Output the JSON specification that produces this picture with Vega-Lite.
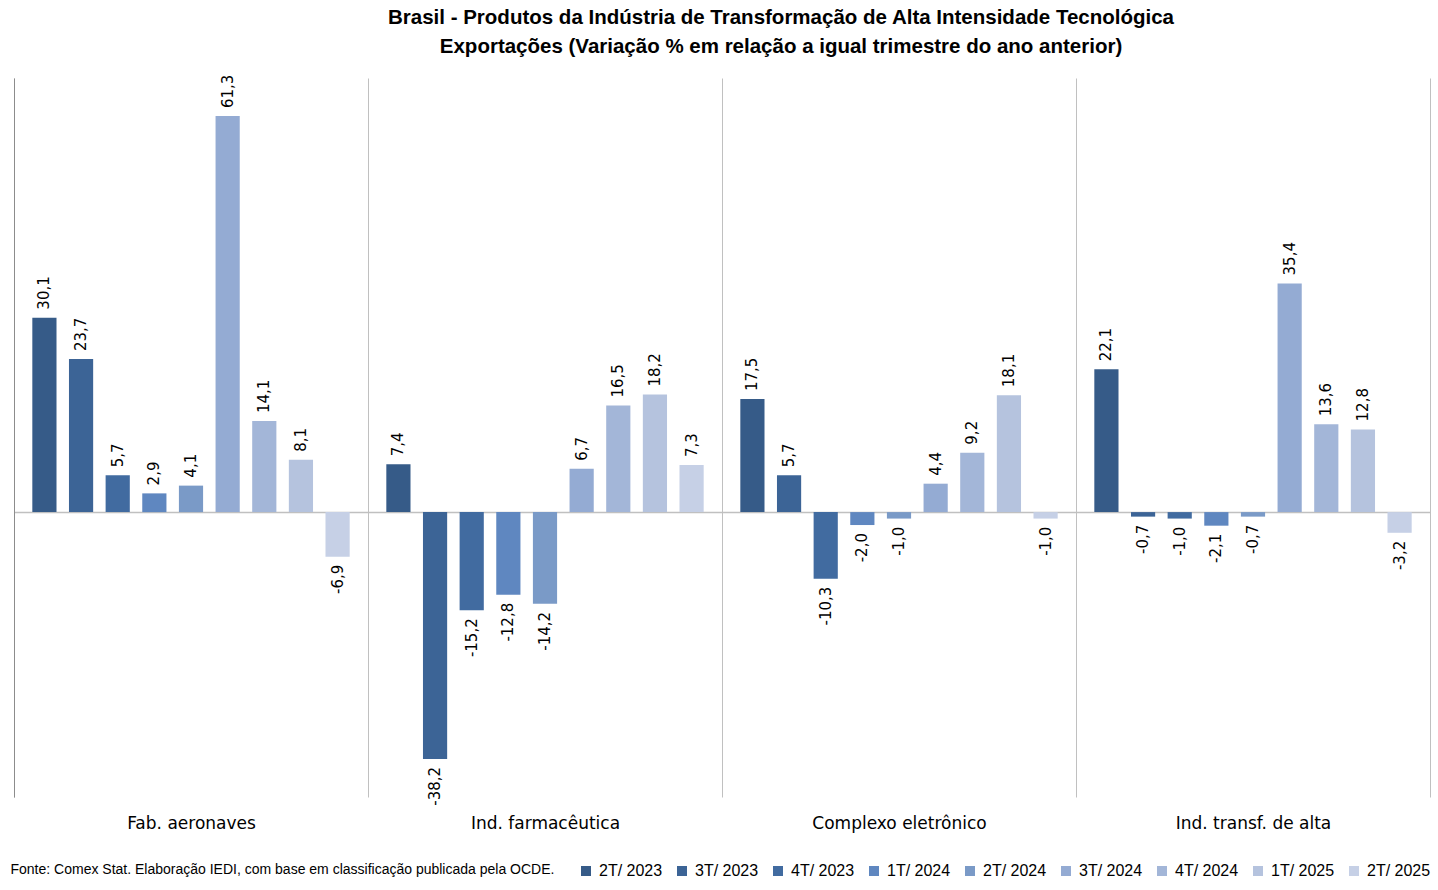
{
  "$schema": "https://vega.github.io/schema/vega-lite/v6.json",
  "width": 1416,
  "height": 719,
  "autosize": {"type": "none"},
  "padding": {"left": 14, "top": 78, "right": 8, "bottom": 93},
  "background": "white",
  "title": {
    "text": ["Brasil - Produtos da Indústria de Transformação de Alta Intensidade Tecnológica", "Exportações (Variação % em relação a igual trimestre do ano anterior)"],
    "font": "Liberation Sans",
    "fontSize": 20.5,
    "fontWeight": "bold",
    "lineHeight": 29,
    "color": "#000000",
    "anchor": "middle",
    "dx": 59,
    "offset": 17
  },
  "data": {
    "values": [
      {"setor": "Fab. aeronaves", "trimestre": "2T/ 2023", "valor": 30.1},
      {"setor": "Fab. aeronaves", "trimestre": "3T/ 2023", "valor": 23.7},
      {"setor": "Fab. aeronaves", "trimestre": "4T/ 2023", "valor": 5.7},
      {"setor": "Fab. aeronaves", "trimestre": "1T/ 2024", "valor": 2.9},
      {"setor": "Fab. aeronaves", "trimestre": "2T/ 2024", "valor": 4.1},
      {"setor": "Fab. aeronaves", "trimestre": "3T/ 2024", "valor": 61.3},
      {"setor": "Fab. aeronaves", "trimestre": "4T/ 2024", "valor": 14.1},
      {"setor": "Fab. aeronaves", "trimestre": "1T/ 2025", "valor": 8.1},
      {"setor": "Fab. aeronaves", "trimestre": "2T/ 2025", "valor": -6.9},
      {"setor": "Ind. farmacêutica", "trimestre": "2T/ 2023", "valor": 7.4},
      {"setor": "Ind. farmacêutica", "trimestre": "3T/ 2023", "valor": -38.2},
      {"setor": "Ind. farmacêutica", "trimestre": "4T/ 2023", "valor": -15.2},
      {"setor": "Ind. farmacêutica", "trimestre": "1T/ 2024", "valor": -12.8},
      {"setor": "Ind. farmacêutica", "trimestre": "2T/ 2024", "valor": -14.2},
      {"setor": "Ind. farmacêutica", "trimestre": "3T/ 2024", "valor": 6.7},
      {"setor": "Ind. farmacêutica", "trimestre": "4T/ 2024", "valor": 16.5},
      {"setor": "Ind. farmacêutica", "trimestre": "1T/ 2025", "valor": 18.2},
      {"setor": "Ind. farmacêutica", "trimestre": "2T/ 2025", "valor": 7.3},
      {"setor": "Complexo eletrônico", "trimestre": "2T/ 2023", "valor": 17.5},
      {"setor": "Complexo eletrônico", "trimestre": "3T/ 2023", "valor": 5.7},
      {"setor": "Complexo eletrônico", "trimestre": "4T/ 2023", "valor": -10.3},
      {"setor": "Complexo eletrônico", "trimestre": "1T/ 2024", "valor": -2.0},
      {"setor": "Complexo eletrônico", "trimestre": "2T/ 2024", "valor": -1.0},
      {"setor": "Complexo eletrônico", "trimestre": "3T/ 2024", "valor": 4.4},
      {"setor": "Complexo eletrônico", "trimestre": "4T/ 2024", "valor": 9.2},
      {"setor": "Complexo eletrônico", "trimestre": "1T/ 2025", "valor": 18.1},
      {"setor": "Complexo eletrônico", "trimestre": "2T/ 2025", "valor": -1.0},
      {"setor": "Ind. transf. de alta", "trimestre": "2T/ 2023", "valor": 22.1},
      {"setor": "Ind. transf. de alta", "trimestre": "3T/ 2023", "valor": -0.7},
      {"setor": "Ind. transf. de alta", "trimestre": "4T/ 2023", "valor": -1.0},
      {"setor": "Ind. transf. de alta", "trimestre": "1T/ 2024", "valor": -2.1},
      {"setor": "Ind. transf. de alta", "trimestre": "2T/ 2024", "valor": -0.7},
      {"setor": "Ind. transf. de alta", "trimestre": "3T/ 2024", "valor": 35.4},
      {"setor": "Ind. transf. de alta", "trimestre": "4T/ 2024", "valor": 13.6},
      {"setor": "Ind. transf. de alta", "trimestre": "1T/ 2025", "valor": 12.8},
      {"setor": "Ind. transf. de alta", "trimestre": "2T/ 2025", "valor": -3.2}
    ]
  },
  "encoding": {
    "x": {
      "field": "setor",
      "type": "nominal",
      "sort": ["Fab. aeronaves", "Ind. farmacêutica", "Complexo eletrônico", "Ind. transf. de alta"],
      "scale": {"paddingInner": 0, "paddingOuter": 0},
      "axis": {
        "title": "Fonte: Comex Stat. Elaboração IEDI, com base em classificação publicada pela OCDE.",
        "titleFont": "Liberation Sans",
        "titleFontSize": 14,
        "titleFontWeight": "normal",
        "titleColor": "#000000",
        "titleAnchor": "start",
        "titleAlign": "left",
        "titleBaseline": "middle",
        "titleX": -4,
        "titleY": 72,
        "labelAngle": 0,
        "labelFont": "DejaVu Sans",
        "labelFontSize": 17,
        "labelColor": "#000000",
        "labelPadding": 26,
        "labelBaseline": "middle",
        "ticks": false,
        "domain": false,
        "grid": true,
        "gridColor": "#c0c0c0",
        "gridWidth": 1,
        "tickBand": "extent"
      }
    },
    "xOffset": {
      "field": "trimestre",
      "type": "nominal",
      "sort": ["2T/ 2023", "3T/ 2023", "4T/ 2023", "1T/ 2024", "2T/ 2024", "3T/ 2024", "4T/ 2024", "1T/ 2025", "2T/ 2025"],
      "scale": {"paddingInner": 0.34, "paddingOuter": 0.5}
    },
    "y": {
      "field": "valor",
      "type": "quantitative",
      "scale": {"domain": [-44.1, 67.2], "nice": false, "zero": false},
      "axis": {
        "title": null,
        "labels": false,
        "ticks": false,
        "domain": true,
        "domainColor": "#8c8c8c",
        "grid": true,
        "values": [0],
        "gridColor": "#c0c0c0",
        "gridWidth": 1.5
      }
    }
  },
  "layer": [
    {
      "mark": {"type": "bar"},
      "encoding": {
        "color": {
          "field": "trimestre",
          "type": "nominal",
          "sort": ["2T/ 2023", "3T/ 2023", "4T/ 2023", "1T/ 2024", "2T/ 2024", "3T/ 2024", "4T/ 2024", "1T/ 2025", "2T/ 2025"],
          "scale": {
            "domain": ["2T/ 2023", "3T/ 2023", "4T/ 2023", "1T/ 2024", "2T/ 2024", "3T/ 2024", "4T/ 2024", "1T/ 2025", "2T/ 2025"],
            "range": ["#365b88", "#3c6496", "#416ba0", "#5f87c0", "#7a9ac7", "#94abd3", "#a3b6d8", "#b5c3de", "#c6d0e6"]
          },
          "legend": {
            "title": null,
            "orient": "none",
            "direction": "horizontal",
            "columns": 9,
            "legendX": 564,
            "legendY": 785,
            "symbolType": "square",
            "symbolSize": 100,
            "symbolStrokeWidth": 0,
            "labelFont": "Liberation Sans",
            "labelFontSize": 16,
            "labelColor": "#000000",
            "labelOffset": 5,
            "columnPadding": 11
          }
        }
      }
    },
    {
      "transform": [{"filter": "datum.valor >= 0"}],
      "mark": {"type": "text", "angle": -90, "align": "left", "baseline": "middle", "dx": 8, "font": "DejaVu Sans", "fontSize": 15, "color": "#000000"},
      "encoding": {"text": {"field": "valor", "type": "quantitative", "format": ".1f"}}
    },
    {
      "transform": [{"filter": "datum.valor < 0"}],
      "mark": {"type": "text", "angle": -90, "align": "right", "baseline": "middle", "dx": -8, "font": "DejaVu Sans", "fontSize": 15, "color": "#000000"},
      "encoding": {"text": {"field": "valor", "type": "quantitative", "format": ".1f"}}
    }
  ],
  "config": {
    "view": {"stroke": null},
    "locale": {
      "number": {"decimal": ",", "thousands": ".", "grouping": [3], "currency": ["R$", ""], "minus": "-"}
    }
  }
}
